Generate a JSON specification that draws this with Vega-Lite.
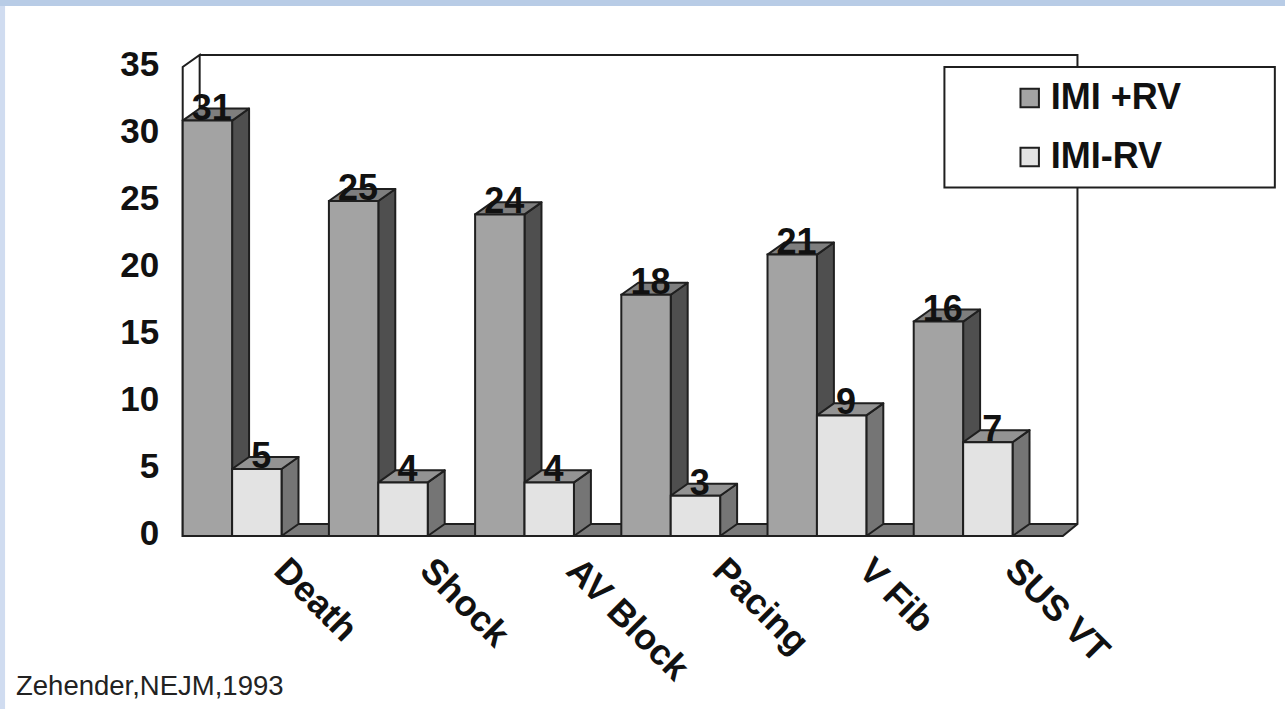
{
  "$schema": "https://vega.github.io/schema/vega-lite/v6.json",
  "width": 880,
  "height": 469,
  "autosize": "none",
  "padding": {"left": 182.7, "top": 67, "right": 222.3, "bottom": 173},
  "background": "#ffffff",
  "config": {
    "view": {"stroke": null},
    "text": {"font": "Liberation Sans"},
    "axisY": {
      "tickCount": 8,
      "grid": false,
      "ticks": false,
      "domain": false,
      "labelFont": "Liberation Sans",
      "labelFontWeight": "bold",
      "labelFontSize": 35,
      "labelColor": "#111111",
      "labelPadding": 24,
      "labelOffset": -3,
      "labelOverlap": false
    }
  },
  "datasets": {
    "outcomes": [
      {"category": "Death", "series": "IMI +RV", "value": 31},
      {"category": "Death", "series": "IMI-RV", "value": 5},
      {"category": "Shock", "series": "IMI +RV", "value": 25},
      {"category": "Shock", "series": "IMI-RV", "value": 4},
      {"category": "AV Block", "series": "IMI +RV", "value": 24},
      {"category": "AV Block", "series": "IMI-RV", "value": 4},
      {"category": "Pacing", "series": "IMI +RV", "value": 18},
      {"category": "Pacing", "series": "IMI-RV", "value": 3},
      {"category": "V Fib", "series": "IMI +RV", "value": 21},
      {"category": "V Fib", "series": "IMI-RV", "value": 9},
      {"category": "SUS VT", "series": "IMI +RV", "value": 16},
      {"category": "SUS VT", "series": "IMI-RV", "value": 7}
    ],
    "frame": [
      {"step": 0, "u": 0, "v": 35},
      {"step": 1, "u": 0.116, "v": 35.9},
      {"step": 2, "u": 6.12, "v": 35.9},
      {"step": 3, "u": 6.12, "v": 0.9},
      {"step": 4, "u": 6.02, "v": 0},
      {"step": 5, "u": 0, "v": 0},
      {"step": 6, "u": 0, "v": 35},
      {"step": 7, "u": 0.116, "v": 35.9},
      {"step": 8, "u": 0.116, "v": 0.9},
      {"step": 9, "u": 6.12, "v": 0.9}
    ]
  },
  "data": {"name": "outcomes"},
  "transform": [
    {"calculate": "indexof(['Death','Shock','AV Block','Pacing','V Fib','SUS VT'], datum.category)", "as": "slot"},
    {"calculate": "datum.slot + (datum.series === 'IMI +RV' ? 0 : 0.338)", "as": "left"},
    {"calculate": "datum.left + 0.338", "as": "right"}
  ],
  "layer": [
    {
      "description": "Window edge bands",
      "data": {"values": [
        {"x0": -1.25, "x1": 7.56, "y0": 39.55, "y1": 40.1, "band": "top"},
        {"x0": -1.25, "x1": -1.215, "y0": -13, "y1": 39.55, "band": "left"}
      ]},
      "transform": [],
      "mark": {"type": "rect"},
      "encoding": {
        "x": {"field": "x0", "type": "quantitative", "scale": {"domain": [0, 6.019], "nice": false, "zero": false}, "axis": null},
        "x2": {"field": "x1"},
        "y": {"field": "y0", "type": "quantitative", "title": null, "scale": {"domain": [0, 35], "nice": false}},
        "y2": {"field": "y1"},
        "color": {"field": "band", "type": "nominal", "scale": {"domain": ["top", "left"], "range": ["#b8cce6", "#d0dcf0"]}, "legend": null}
      }
    },
    {
      "description": "Chart floor",
      "data": {"values": [
        {"px": 0, "low": 0, "high": 0},
        {"px": 0.116, "low": 0, "high": 0.9},
        {"px": 6.02, "low": 0, "high": 0.9},
        {"px": 6.12, "low": 0.9, "high": 0.9}
      ]},
      "transform": [],
      "mark": {"type": "area", "orient": "vertical", "fill": "#7a7a7a"},
      "encoding": {
        "x": {"field": "px", "type": "quantitative", "scale": {"domain": [0, 6.019], "nice": false, "zero": false}, "axis": null},
        "y": {"field": "high", "type": "quantitative", "title": null, "stack": null, "scale": {"domain": [0, 35], "nice": false}},
        "y2": {"field": "low"}
      }
    },
    {
      "description": "Box walls",
      "data": {"name": "frame"},
      "transform": [],
      "mark": {"type": "line", "stroke": "#1f1f1f", "strokeWidth": 2},
      "encoding": {
        "x": {"field": "u", "type": "quantitative", "scale": {"domain": [0, 6.019], "nice": false, "zero": false}, "axis": null},
        "y": {"field": "v", "type": "quantitative", "title": null, "scale": {"domain": [0, 35], "nice": false}},
        "order": {"field": "step"}
      }
    },
    {
      "description": "Right faces of the bars",
      "transform": [
        {"calculate": "[datum.right, datum.right + 0.116]", "as": "px"},
        {"calculate": "[0, 0.9]", "as": "low"},
        {"calculate": "[datum.value, datum.value + 0.9]", "as": "high"},
        {"flatten": ["px", "low", "high"]}
      ],
      "mark": {"type": "area", "orient": "vertical", "stroke": "#1f1f1f", "strokeWidth": 2, "strokeJoin": "round"},
      "encoding": {
        "x": {"field": "px", "type": "quantitative", "scale": {"domain": [0, 6.019], "nice": false, "zero": false}, "axis": null},
        "y": {"field": "high", "type": "quantitative", "title": null, "stack": null, "scale": {"domain": [0, 35], "nice": false}},
        "y2": {"field": "low"},
        "detail": {"field": "category"},
        "fill": {"field": "series", "type": "nominal", "scale": {"domain": ["IMI +RV", "IMI-RV"], "range": ["#4f4f4f", "#757575"]}, "legend": null}
      }
    },
    {
      "description": "Top faces of the bars",
      "transform": [
        {"calculate": "[datum.left, datum.left + 0.116, datum.right, datum.right + 0.116]", "as": "px"},
        {"calculate": "[datum.value, datum.value, datum.value, datum.value + 0.9]", "as": "low"},
        {"calculate": "[datum.value, datum.value + 0.9, datum.value + 0.9, datum.value + 0.9]", "as": "high"},
        {"flatten": ["px", "low", "high"]}
      ],
      "mark": {"type": "area", "orient": "vertical", "stroke": "#1f1f1f", "strokeWidth": 2, "strokeJoin": "round"},
      "encoding": {
        "x": {"field": "px", "type": "quantitative", "scale": {"domain": [0, 6.019], "nice": false, "zero": false}, "axis": null},
        "y": {"field": "high", "type": "quantitative", "title": null, "stack": null, "scale": {"domain": [0, 35], "nice": false}},
        "y2": {"field": "low"},
        "detail": {"field": "category"},
        "fill": {"field": "series", "type": "nominal", "scale": {"domain": ["IMI +RV", "IMI-RV"], "range": ["#7e7e7e", "#939393"]}, "legend": null}
      }
    },
    {
      "description": "Legend panel",
      "data": {"values": [{"x0": 5.21, "x1": 7.47, "y0": 35, "y1": 26}]},
      "transform": [],
      "mark": {"type": "rect", "fill": "#ffffff", "stroke": "#1f1f1f", "strokeWidth": 2},
      "encoding": {
        "x": {"field": "x0", "type": "quantitative", "scale": {"domain": [0, 6.019], "nice": false, "zero": false}, "axis": null},
        "x2": {"field": "x1"},
        "y": {"field": "y0", "type": "quantitative", "title": null, "scale": {"domain": [0, 35], "nice": false}},
        "y2": {"field": "y1"}
      }
    },
    {
      "description": "Front faces of the bars, carrying the legend",
      "mark": {"type": "rect", "stroke": "#1f1f1f", "strokeWidth": 2},
      "encoding": {
        "x": {"field": "left", "type": "quantitative", "scale": {"domain": [0, 6.019], "nice": false, "zero": false}, "axis": null},
        "x2": {"field": "right"},
        "y": {"field": "value", "type": "quantitative", "title": null, "scale": {"domain": [0, 35], "nice": false}},
        "y2": {"datum": 0},
        "fill": {
          "field": "series",
          "type": "nominal",
          "scale": {"domain": ["IMI +RV", "IMI-RV"], "range": ["#a3a3a3", "#e3e3e3"]},
          "legend": {
            "orient": "none",
            "legendX": 829,
            "legendY": 13,
            "title": null,
            "symbolType": "square",
            "symbolSize": 340,
            "symbolStrokeColor": "#1f1f1f",
            "symbolStrokeWidth": 2,
            "labelFont": "Liberation Sans",
            "labelFontWeight": "bold",
            "labelFontSize": 36,
            "labelColor": "#111111",
            "labelOffset": 3,
            "rowPadding": 23,
            "zindex": 2
          }
        }
      }
    },
    {
      "description": "Value labels",
      "transform": [
        {"calculate": "(datum.left + datum.right) / 2 + 0.03", "as": "labelX"},
        {"calculate": "datum.value + 0.9", "as": "labelY"}
      ],
      "mark": {"type": "text", "fontWeight": "bold", "fontSize": 36, "align": "center", "baseline": "middle", "fill": "#111111"},
      "encoding": {
        "x": {"field": "labelX", "type": "quantitative", "scale": {"domain": [0, 6.019], "nice": false, "zero": false}, "axis": null},
        "y": {"field": "labelY", "type": "quantitative", "title": null, "scale": {"domain": [0, 35], "nice": false}},
        "text": {"field": "value", "type": "quantitative"}
      }
    },
    {
      "description": "Slanted category labels",
      "transform": [
        {"filter": "datum.series === 'IMI +RV'"},
        {"calculate": "datum.slot + 0.665", "as": "labelX"},
        {"calculate": "-2.15", "as": "labelY"}
      ],
      "mark": {"type": "text", "fontWeight": "bold", "fontSize": 36, "angle": 45, "align": "left", "baseline": "middle", "fill": "#111111"},
      "encoding": {
        "x": {"field": "labelX", "type": "quantitative", "scale": {"domain": [0, 6.019], "nice": false, "zero": false}, "axis": null},
        "y": {"field": "labelY", "type": "quantitative", "title": null, "scale": {"domain": [0, 35], "nice": false}},
        "text": {"field": "category"}
      }
    },
    {
      "description": "Source citation",
      "data": {"values": [{"u": -1.14, "v": -11.27, "source": "Zehender,NEJM,1993"}]},
      "transform": [],
      "mark": {"type": "text", "fontSize": 27.5, "align": "left", "baseline": "middle", "fill": "#222222"},
      "encoding": {
        "x": {"field": "u", "type": "quantitative", "scale": {"domain": [0, 6.019], "nice": false, "zero": false}, "axis": null},
        "y": {"field": "v", "type": "quantitative", "title": null, "scale": {"domain": [0, 35], "nice": false}},
        "text": {"field": "source"}
      }
    }
  ],
  "resolve": {"scale": {"fill": "independent", "color": "independent"}}
}
